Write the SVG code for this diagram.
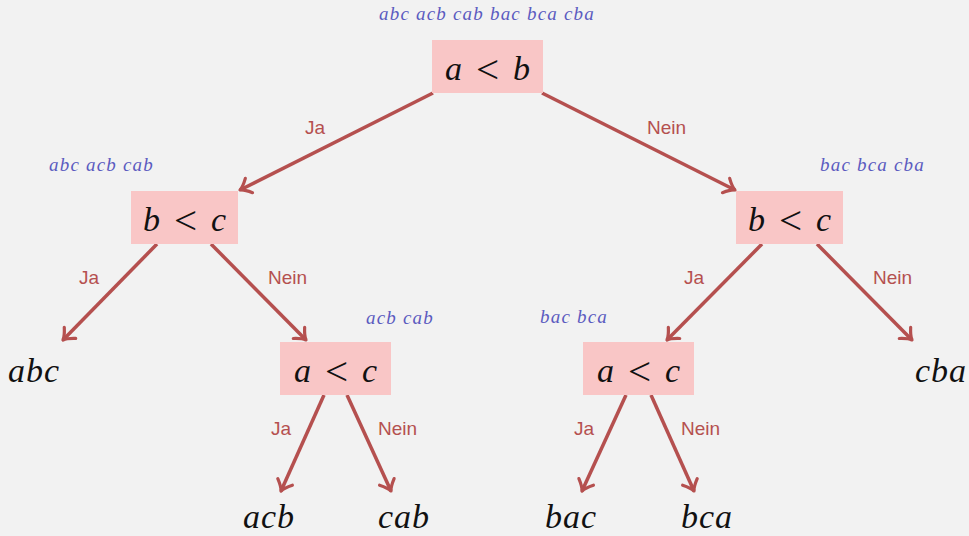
<svg xmlns="http://www.w3.org/2000/svg" width="969" height="536" viewBox="0 0 969 536">
<style>
.bg{fill:#f2f2f2}
.box{fill:#f9c6c6}
.m{font-family:"Liberation Serif","DejaVu Serif",serif;font-style:italic;fill:#111}
.op{font-size:34px;word-spacing:5.5px}
.lt{font-style:normal;font-size:41px}
.leaf{font-size:34px;letter-spacing:1px}
.set{font-family:"Liberation Serif","DejaVu Serif",serif;font-style:italic;font-size:19px;fill:#5b5bc0;letter-spacing:1.2px}
.lbl{font-family:"Liberation Sans",Arial,sans-serif;font-size:19px;fill:#b5504f}
.e{stroke:#b5504f;stroke-width:3.5;fill:none;marker-end:url(#ah)}
</style>
<defs>
<marker id="ah" markerUnits="userSpaceOnUse" viewBox="-14 -10 16 20" refX="0" refY="0" markerWidth="16" markerHeight="20" orient="auto">
<path d="M -10 -8 Q -4 -1.5 0 0 Q -4 1.5 -10 8" stroke="#b5504f" stroke-width="3.2" fill="none" stroke-linecap="round" stroke-linejoin="round"/>
</marker>
</defs>
<rect class="bg" x="0" y="0" width="969" height="536"/>
<g id="connectors">
<line class="e" x1="433" y1="93" x2="240" y2="190"/>
<line class="e" x1="542" y1="93" x2="735" y2="190"/>
<line class="e" x1="157" y1="244" x2="63" y2="340"/>
<line class="e" x1="211" y1="244" x2="306" y2="340"/>
<line class="e" x1="762" y1="244" x2="667" y2="340"/>
<line class="e" x1="817" y1="244" x2="912" y2="340"/>
<line class="e" x1="324" y1="395" x2="281" y2="491"/>
<line class="e" x1="347" y1="395" x2="391" y2="491"/>
<line class="e" x1="626" y1="395" x2="582" y2="491"/>
<line class="e" x1="651" y1="395" x2="694" y2="491"/>
<text class="lbl" x="305" y="134">Ja</text>
<text class="lbl" x="647" y="134">Nein</text>
<text class="lbl" x="79" y="284">Ja</text>
<text class="lbl" x="268" y="284">Nein</text>
<text class="lbl" x="684" y="284">Ja</text>
<text class="lbl" x="873" y="284">Nein</text>
<text class="lbl" x="271" y="435">Ja</text>
<text class="lbl" x="378" y="435">Nein</text>
<text class="lbl" x="574" y="435">Ja</text>
<text class="lbl" x="681" y="435">Nein</text>
</g>
<g id="n-root">
<rect class="box" x="432" y="40" width="111" height="53"/>
<text class="m op" x="487.5" y="80" text-anchor="middle">a <tspan class="lt" dy="3">&lt;</tspan><tspan dy="-3"> b</tspan></text>
<text class="set" x="379" y="20">abc acb cab bac bca cba</text>
</g>
<g id="n-left">
<rect class="box" x="131" y="191" width="107" height="53"/>
<text class="m op" x="184.5" y="231" text-anchor="middle">b <tspan class="lt" dy="3">&lt;</tspan><tspan dy="-3"> c</tspan></text>
<text class="set" x="49" y="171">abc acb cab</text>
</g>
<g id="n-right">
<rect class="box" x="736" y="191" width="107" height="53"/>
<text class="m op" x="789.5" y="231" text-anchor="middle">b <tspan class="lt" dy="3">&lt;</tspan><tspan dy="-3"> c</tspan></text>
<text class="set" x="820" y="171">bac bca cba</text>
</g>
<g id="n-leftmid">
<rect class="box" x="280" y="342" width="111" height="53"/>
<text class="m op" x="335.5" y="382" text-anchor="middle">a <tspan class="lt" dy="3">&lt;</tspan><tspan dy="-3"> c</tspan></text>
<text class="set" x="366" y="324">acb cab</text>
</g>
<g id="n-rightmid">
<rect class="box" x="583" y="342" width="111" height="53"/>
<text class="m op" x="638.5" y="382" text-anchor="middle">a <tspan class="lt" dy="3">&lt;</tspan><tspan dy="-3"> c</tspan></text>
<text class="set" x="540" y="323">bac bca</text>
</g>
<g id="leaf-abc"><text class="m leaf" x="8" y="382">abc</text></g>
<g id="leaf-cba"><text class="m leaf" x="915" y="382">cba</text></g>
<g id="leaf-acb"><text class="m leaf" x="243" y="528">acb</text></g>
<g id="leaf-cab"><text class="m leaf" x="378" y="528">cab</text></g>
<g id="leaf-bac"><text class="m leaf" x="545" y="528">bac</text></g>
<g id="leaf-bca"><text class="m leaf" x="681" y="528">bca</text></g>
</svg>
